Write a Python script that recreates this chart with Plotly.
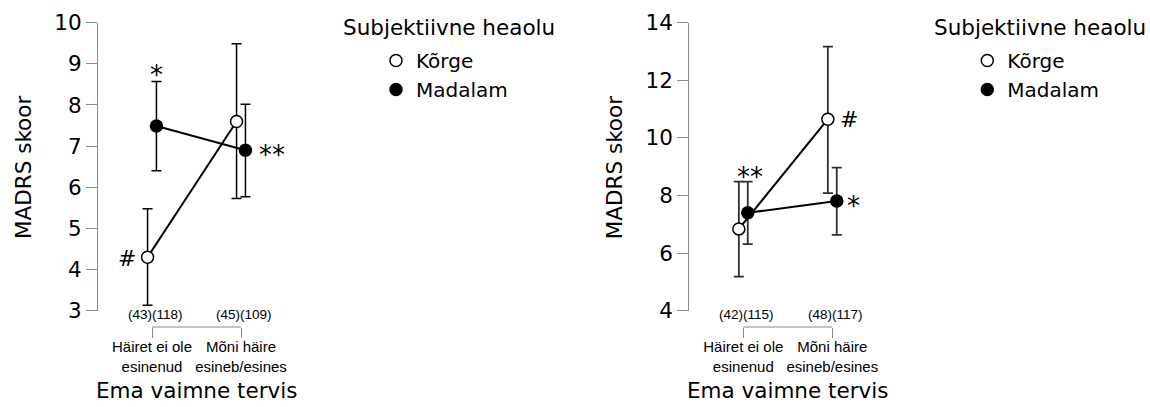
import plotly.graph_objects as go

W, H = 1150, 407

# Data: MADRS scores by mother's mental health and subjective well-being
categories = ["Häiret ei ole<br>esinenud", "Mõni häire<br>esineb/esines"]
groups = ["Kõrge", "Madalam"]

# Panel A
a_korge_mean = [4.30, 7.60]
a_korge_lo = [3.13, 5.73]
a_korge_hi = [5.48, 9.49]
a_madal_mean = [7.49, 6.90]
a_madal_lo = [6.40, 5.77]
a_madal_hi = [8.57, 8.02]
a_n_labels = ["(43)(118)", "(45)(109)"]

# Panel B
b_korge_mean = [6.84, 10.65]
b_korge_lo = [5.18, 8.08]
b_korge_hi = [8.48, 13.17]
b_madal_mean = [7.40, 7.81]
b_madal_lo = [6.31, 6.63]
b_madal_hi = [8.48, 8.97]
b_n_labels = ["(42)(115)", "(48)(117)"]

BIG = "DejaVu Sans"
SMALL = "Liberation Sans, Arial, sans-serif"
AXIS_GREY = "#8a8a8a"
DODGE = 0.05
xpos = [1, 2]


def px(v):
    return v / W


def py(v):
    return 1 - v / H


fig = go.Figure()

panels = [
    dict(xa="x", ya="y", legend="legend", left=98,
         korge=(a_korge_mean, a_korge_lo, a_korge_hi),
         madal=(a_madal_mean, a_madal_lo, a_madal_hi),
         nlab=a_n_labels, yr=[3, 10], dt=1, ecol="black", ew=1.5),
    dict(xa="x2", ya="y2", legend="legend2", left=689.3,
         korge=(b_korge_mean, b_korge_lo, b_korge_hi),
         madal=(b_madal_mean, b_madal_lo, b_madal_hi),
         nlab=b_n_labels, yr=[4, 14], dt=2, ecol="#2e2e2e", ew=1.8),
]

for p in panels:
    for name, (m, lo, hi), fill, sh in [
        ("Kõrge", p["korge"], "white", -DODGE),
        ("Madalam", p["madal"], "black", DODGE),
    ]:
        fig.add_trace(go.Scatter(
            x=[x + sh for x in xpos], y=m, mode="lines+markers",
            xaxis=p["xa"], yaxis=p["ya"], showlegend=False, cliponaxis=False,
            line=dict(color="black", width=2),
            marker=dict(size=12, color=fill, line=dict(color="black", width=1.5)),
            error_y=dict(type="data", symmetric=False,
                         array=[h - v for h, v in zip(hi, m)],
                         arrayminus=[v - l for v, l in zip(m, lo)],
                         color=p["ecol"], thickness=p["ew"], width=5),
        ))
        # legend-only entry
        fig.add_trace(go.Scatter(
            x=[None], y=[None], mode="markers", name=name,
            xaxis=p["xa"], yaxis=p["ya"], legend=p["legend"],
            marker=dict(size=12, color=fill, line=dict(color="black", width=1.5)),
        ))

layout = dict(
    width=W, height=H,
    margin=dict(l=0, r=0, t=0, b=0, autoexpand=False),
    paper_bgcolor="white", plot_bgcolor="white",
    annotations=[], shapes=[],
)


def note(**kw):
    base = dict(showarrow=False, xanchor="center", yanchor="middle")
    base.update(kw)
    layout["annotations"].append(base)


for i, p in enumerate(panels):
    sfx = "" if i == 0 else "2"
    left = p["left"]
    unit = 89.0
    x0 = 1 - 54.0 / unit
    x1 = x0 + 215.0 / unit
    layout["xaxis" + sfx] = dict(
        domain=[px(left), px(left + 215)], range=[x0, x1],
        anchor="free", position=py(327), showline=False, showgrid=False,
        zeroline=False, tickmode="array", tickvals=xpos, ticktext=categories,
        tickangle=0, ticklabelstandoff=-4,
        ticks="outside", ticklen=10, tickwidth=1.2, tickcolor=AXIS_GREY,
        tickfont=dict(family=SMALL, size=15, color="black"),
    )
    layout["yaxis" + sfx] = dict(
        domain=[py(310.7), py(22.7)], range=p["yr"], dtick=p["dt"],
        anchor="x" + sfx, showline=True, linecolor=AXIS_GREY, linewidth=1.2,
        showgrid=False, zeroline=False, ticks="outside", ticklen=11,
        tickwidth=1.2, tickcolor=AXIS_GREY,
        tickfont=dict(family=BIG, size=21.5, color="black"),
    )
    # bracket joining the two categories
    layout["shapes"].append(dict(
        type="line", xref="x" + sfx, yref="paper", x0=xpos[0], x1=xpos[1],
        y0=py(327), y1=py(327), line=dict(color=AXIS_GREY, width=1.2)))
    # group sizes
    for xv, lab in zip(xpos, p["nlab"]):
        note(xref="x" + sfx, yref="paper", x=xv, y=py(314), xshift=3,
             text=lab, font=dict(family=SMALL, size=13.5, color="black"))
    # axis titles
    note(xref="paper", yref="paper", x=px(left - 75), y=py(168),
         text="MADRS skoor", textangle=-90,
         font=dict(family=BIG, size=21.5, color="black"))
    note(xref="x" + sfx, yref="paper", x=1.5, y=py(390),
         text="Ema vaimne tervis",
         font=dict(family=BIG, size=21.5, color="black"))
    # legend title
    note(xref="paper", yref="paper", x=px(left + 243), y=py(27), xanchor="left",
         text="Subjektiivne heaolu",
         font=dict(family=BIG, size=21.5, color="black"))
    layout["legend" + sfx] = dict(
        x=px(left + 278), y=py(41), xanchor="left", yanchor="top",
        bgcolor="rgba(0,0,0,0)", borderwidth=0, itemsizing="trace",
        font=dict(family=BIG, size=20, color="black"),
        tracegroupgap=0,
    )

# significance markers
sig = [
    ("x", "y", 1 + DODGE, a_madal_hi[0], "*", 0, 7),
    ("x", "y", 2 + DODGE, a_madal_mean[1], "**", 27, -5),
    ("x", "y", 1 - DODGE, a_korge_mean[0], "#", -21, -1),
    ("x2", "y2", 1 + DODGE, b_madal_hi[0], "**", 2, 5),
    ("x2", "y2", 2 - DODGE, b_korge_mean[1], "#", 21, 0),
    ("x2", "y2", 2 + DODGE, b_madal_mean[1], "*", 17, -5),
]
for xa, ya, xv, yv, txt, dx, dy in sig:
    size = 22 if txt == "#" else 26
    note(xref=xa, yref=ya, x=xv, y=yv, xshift=dx, yshift=dy, text=txt,
         font=dict(family=BIG, size=size, color="black"))

fig.update_layout(**layout)
fig.write_html("out.html")
